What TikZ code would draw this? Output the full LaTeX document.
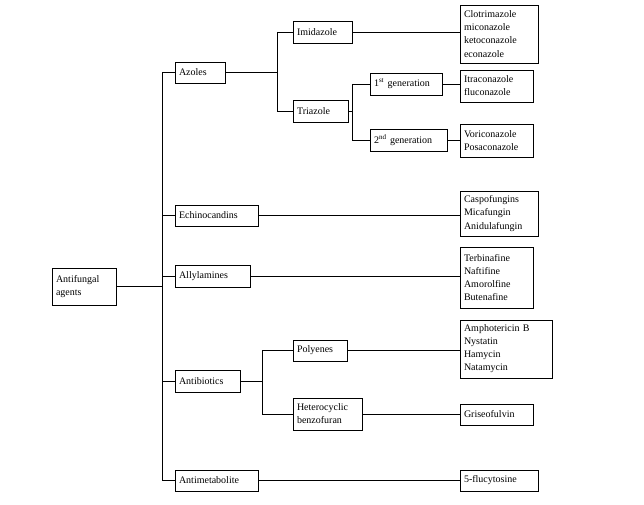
\documentclass[tikz,border=0pt]{standalone}
\usepackage{fontspec}
\setmainfont{Liberation Serif}
\begin{document}
\begin{tikzpicture}[x=0.75pt,y=-0.75pt,
  box/.style n args={3}{draw,line width=0.5pt,inner xsep=3pt,inner ysep=0pt,align=left,
    text width=#1-6pt,minimum height=#2,font=\fontsize{7.5}{9.8}\selectfont},
  ln/.style={line width=0.5pt}]
\useasboundingbox (0,0) rectangle (644,505);
\node[box={48pt}{27.75pt}{}] (af) at (84,286.5) {Antifungal\\agents};
\node[box={37.5pt}{15.75pt}{}] (azo) at (200,72.5) {Azoles};
\node[box={62.25pt}{15.75pt}{}] (ech) at (216.5,215.5) {Echinocandins};
\node[box={56.25pt}{16.5pt}{}] (all) at (212.5,276) {Allylamines};
\node[box={48.75pt}{16.5pt}{}] (ant) at (207.5,381) {Antibiotics};
\node[box={62.25pt}{15.75pt}{}] (met) at (216.5,480.5) {Antimetabolite};
\node[box={44.25pt}{16.5pt}{}] (imi) at (322.5,32) {Imidazole};
\node[box={41.25pt}{16.5pt}{}] (tri) at (320.5,111) {Triazole};
\node[box={54pt}{16.5pt}{}] (g1) at (406,84) {1\textsuperscript{st} generation};
\node[box={57.75pt}{16.5pt}{}] (g2) at (408.5,140) {2\textsuperscript{nd} generation};
\node[box={58.5pt}{43.5pt}{}] (clo) at (499,34) {Clotrimazole\\miconazole\\ketoconazole\\econazole};
\node[box={54.75pt}{24pt}{}] (itr) at (496.5,86) {Itraconazole\\fluconazole};
\node[box={54.75pt}{24.75pt}{}] (vor) at (496.5,140.5) {Voriconazole\\Posaconazole};
\node[box={58.5pt}{33.75pt}{}] (cas) at (499,213.5) {Caspofungins\\Micafungin\\Anidulafungin};
\node[box={54.75pt}{45.75pt}{}] (ter) at (496.5,277.5) {Terbinafine\\Naftifine\\Amorolfine\\Butenafine};
\node[box={69pt}{43.5pt}{}] (amp) at (506,349) {Amphotericin B\\Nystatin\\Hamycin\\Natamycin};
\node[box={40.5pt}{15.75pt}{}] (pol) at (320,350.5) {Polyenes};
\node[box={51.75pt}{24pt}{}] (het) at (327.5,414) {Heterocyclic\\benzofuran};
\node[box={54.75pt}{15.75pt}{}] (gri) at (496.5,414.5) {Griseofulvin};
\node[box={58.5pt}{15.75pt}{}] (flu) at (499,480.5) {5-flucytosine};
\coordinate (t1) at (162,72.5); \coordinate (t2) at (162,480.5);
\coordinate (a1) at (277,32); \coordinate (a2) at (277,111);
\coordinate (b1) at (352,84); \coordinate (b2) at (352,140);
\coordinate (c1) at (262,350.5); \coordinate (c2) at (262,414);
\draw[ln] (t1)--(t2) (af.east)--(af.east-|t1);
\foreach \n in {azo,ech,all,ant,met} \draw[ln] (\n.west)--(\n.west-|t1);
\draw[ln] (a1)--(a2) (azo.east)--(azo.east-|a1) (imi.west)--(imi.west-|a1) (tri.west)--(tri.west-|a1);
\draw[ln] (b1)--(b2) (tri.east)--(tri.east-|b1) (g1.west)--(g1.west-|b1) (g2.west)--(g2.west-|b1);
\draw[ln] (c1)--(c2) (ant.east)--(ant.east-|c1) (pol.west)--(pol.west-|c1) (het.west)--(het.west-|c1);
\draw[ln] (imi.east)--(imi.east-|clo.west);
\draw[ln] (g1.east)--(g1.east-|itr.west);
\draw[ln] (g2.east)--(g2.east-|vor.west);
\draw[ln] (ech.east)--(ech.east-|cas.west);
\draw[ln] (all.east)--(all.east-|ter.west);
\draw[ln] (pol.east)--(pol.east-|amp.west);
\draw[ln] (het.east)--(het.east-|gri.west);
\draw[ln] (met.east)--(met.east-|flu.west);
\end{tikzpicture}
\end{document}
